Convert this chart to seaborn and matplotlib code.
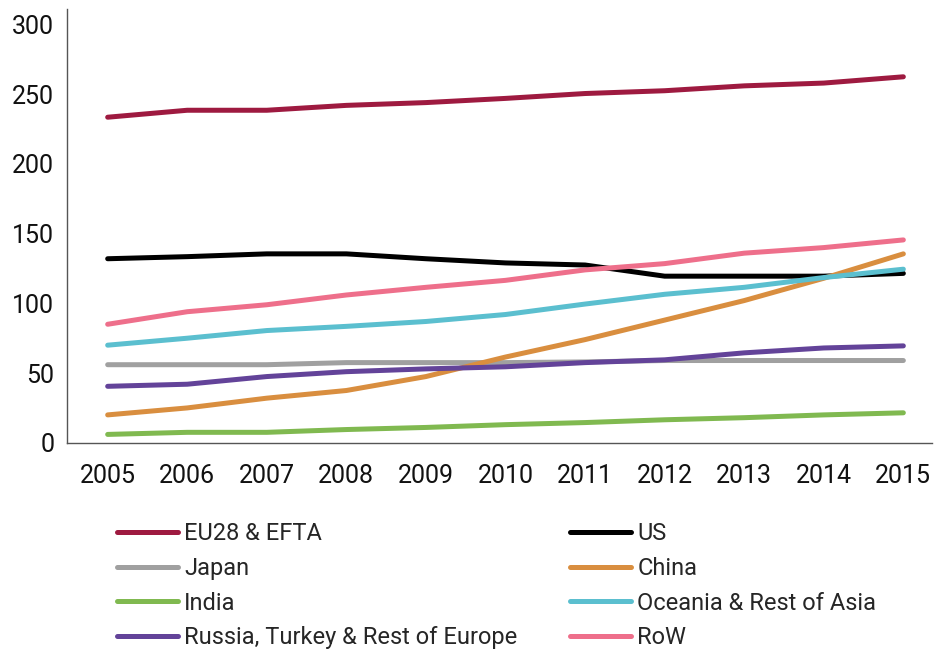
import pandas as pd
import numpy as np
import seaborn as sns
import matplotlib.pyplot as plt
from matplotlib.lines import Line2D

years = list(range(2005, 2016))

eu_efta = [233.5, 238.5, 238.5, 242, 244, 247, 250.5, 252.5, 256, 258, 262.5]
us = [132, 133.5, 135.5, 135.5, 132, 129, 127.5, 119.5, 119.5, 119.5, 121.5]
japan = [56, 56, 56, 57.5, 57.5, 57.5, 58, 59, 59, 59, 59]
china = [20, 25, 32, 37.5, 47.5, 61.5, 74, 88, 102, 118, 135.5]
india = [6, 7.5, 7.5, 9.5, 11, 13, 14.5, 16.5, 18, 20, 21.5]
oceania = [70, 75, 80.5, 83.5, 87, 92, 99.5, 106.5, 111.5, 118.5, 124.5]
russia = [40.5, 42, 47.5, 51, 53, 54.5, 57.5, 59.5, 64.5, 68, 69.5]
row = [85, 94, 99, 106, 111.5, 116.5, 124, 128.5, 136, 140, 145.5]

series = ["EU28 & EFTA", "US", "Japan", "China", "India",
          "Oceania & Rest of Asia", "Russia, Turkey & Rest of Europe", "RoW"]
values = [eu_efta, us, japan, china, india, oceania, russia, row]
colors = ["#9E1A40", "#000000", "#A0A0A0", "#D98E3F", "#80B950",
          "#5BBFCF", "#634399", "#EE6F8B"]

df = pd.DataFrame({
    "year": np.tile(years, len(series)),
    "value": np.concatenate(values),
    "series": np.repeat(series, len(years)),
})

sns.set_style("white")
plt.rcParams['font.family'] = ['Roboto', 'DejaVu Sans']

fig = plt.figure(figsize=(9.42, 6.55), dpi=100)
ax = fig.add_axes([0.0708, 0.324, 0.919, 0.662])

sns.lineplot(data=df, x="year", y="value", hue="series", hue_order=series,
             palette=colors, linewidth=3.6, ax=ax, legend=False)
for ln in ax.get_lines():
    ln.set_solid_capstyle('round')
    ln.set_solid_joinstyle('round')

ax.set_xlim(2005 - 0.515, 2015 + 0.365)
ax.set_ylim(0, 311)
ax.set_xticks(years)
ax.set_yticks(range(0, 301, 50))
ax.set_xlabel("")
ax.set_ylabel("")
ax.tick_params(axis='both', length=0, labelsize=18, colors='#111111')
ax.tick_params(axis='x', pad=15)
ax.tick_params(axis='y', pad=9)
for s in ["top", "right"]:
    ax.spines[s].set_visible(False)
for s in ["left", "bottom"]:
    ax.spines[s].set_color('#555555')
    ax.spines[s].set_linewidth(1.0)

def handles_for(names):
    return [Line2D([0], [0], color=colors[series.index(n)], lw=3.6,
                   solid_capstyle='round') for n in names]

left_names = ["EU28 & EFTA", "Japan", "India", "Russia, Turkey & Rest of Europe"]
right_names = ["US", "China", "Oceania & Rest of Asia", "RoW"]

common = dict(frameon=False, fontsize=17, handlelength=2.6, handletextpad=0.25,
              labelspacing=0.5, borderpad=0, borderaxespad=0, loc='upper left')
leg1 = fig.legend(handles_for(left_names), left_names,
                  bbox_to_anchor=(117 / 942, 1 - 522 / 655), **common)
leg2 = fig.legend(handles_for(right_names), right_names,
                  bbox_to_anchor=(570 / 942, 1 - 522 / 655), **common)

fig.savefig("out.png", dpi=100)
